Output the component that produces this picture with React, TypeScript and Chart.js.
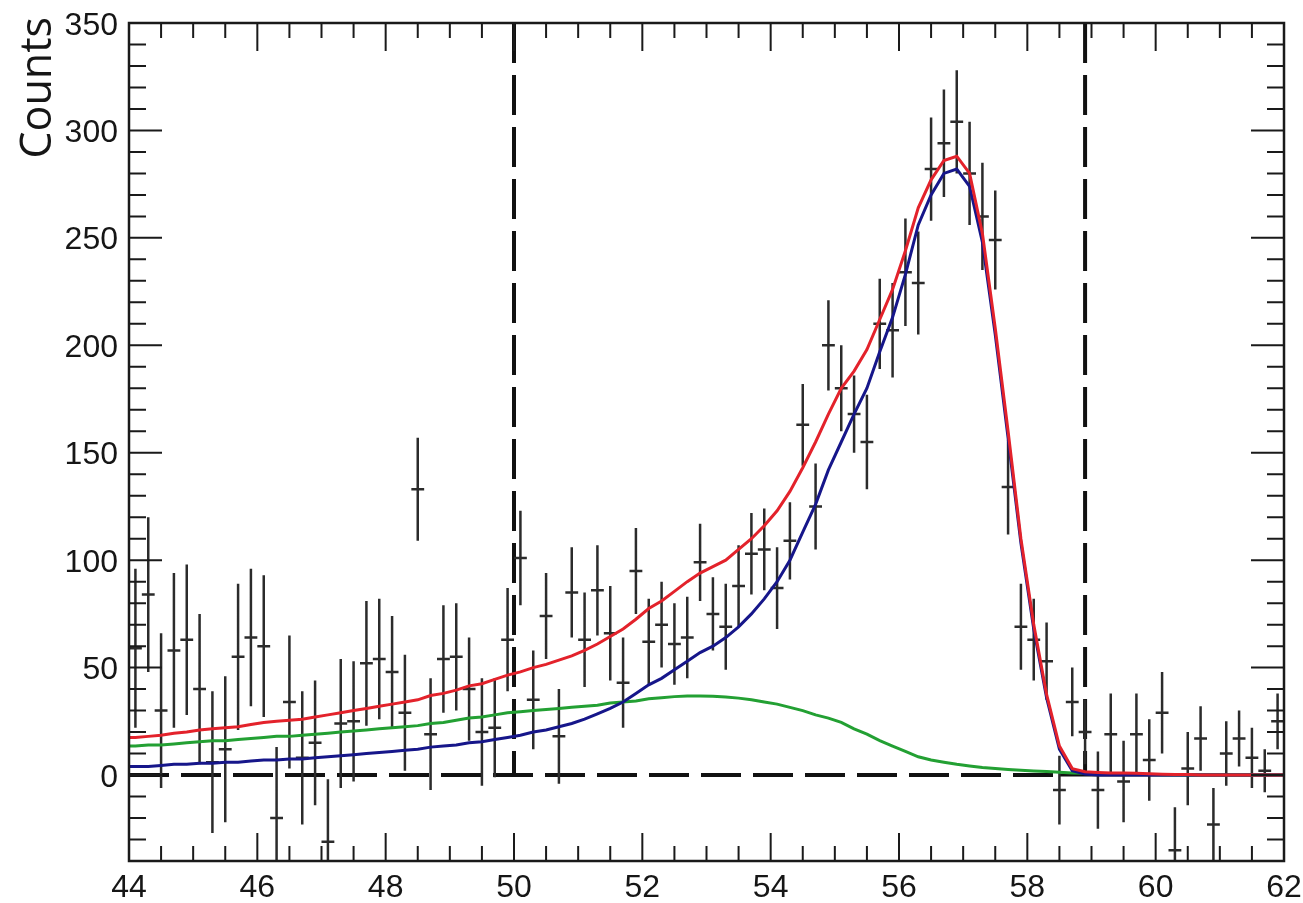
import React, { useEffect, useRef } from "react";
import { Chart, registerables } from "chart.js";

Chart.register(...registerables);

// ---- axis ranges & ticks ----
const X_MIN = 44;
const X_MAX = 62;
const Y_MIN = -40;
const Y_MAX = 350;
const BIN_WIDTH = 0.2;
const X_TICKS = [44, 46, 48, 50, 52, 54, 56, 58, 60, 62];
const Y_TICKS = [0, 50, 100, 150, 200, 250, 300, 350];
const Y_TITLE = "Counts";

// ---- selection window (vertical dashed lines) ----
const CUT_LOW = 50;
const CUT_HIGH = 58.9;
const ZERO_DASH_END = 58.5;

// ---- data histogram (bin centres 44.1 ... 61.9) ----
const COUNTS = [
  59, 84, 30, 58, 63, 40, 6, 12, 55, 64,
  60, -20, 34, 8, 15, -31, 24, 25, 52, 54,
  48, 29, 133, 19, 54, 55, 40, 20, 22, 63,
  101, 35, 74, 18, 85, 63, 86, 66, 43, 95,
  62, 70, 61, 64, 99, 75, 69, 88, 103, 105,
  87, 109, 163, 125, 200, 180, 168, 155, 210, 207,
  234, 229, 282, 294, 304, 280, 260, 249, 134, 69,
  63, 53, -7, 34, 20, -7, 19, -3, 19, 7,
  29, -35, 3, 17, -23, 10, 17, 8, 2, 25,
];
const ERRORS = [
  37, 36, 36, 36, 35, 35, 33, 34, 34, 32,
  33, 33, 31, 31, 29, 29, 30, 28, 29, 28,
  26, 27, 24, 26, 25, 25, 24, 25, 23, 24,
  22, 23, 20, 22, 21, 22, 21, 22, 21, 20,
  20, 20, 19, 19, 18, 17, 20, 19, 19, 19,
  19, 18, 19, 20, 21, 20, 18, 22, 21, 22,
  25, 24, 24, 25, 24, 24, 25, 23, 22, 20,
  19, 18, 16, 16, 15, 18, 19, 19, 19, 19,
  19, 20, 17, 15, 17, 15, 13, 14, 10, 13,
];

// ---- fit components (per bin) ----
const TOTAL = [
  17.5, 18, 18.5, 19.5, 20, 21, 21.5, 22, 22.5, 23.5,
  24.5, 25, 25.5, 26, 27, 28, 29, 30, 31, 32,
  33, 34, 35, 37, 38, 39.5, 41.5, 42.5, 44.5, 46.5,
  48, 50, 51.5, 53.5, 55.5, 58, 61, 64.5, 68, 72.5,
  77.5, 81, 85.5, 90, 94, 97, 100, 105, 110, 116,
  123, 132, 143, 155, 168, 180, 188, 198, 212, 226,
  244, 264, 277, 286, 288, 280, 252, 208, 160, 110,
  70, 37.5, 13.5, 3, 1.5, 1.2, 1, 1, 0.8, 0.6,
  0.4, 0.3, 0.2, 0, 0, 0, 0, 0, 0, 0,
];
const SIGNAL = [
  4, 4, 4.5, 5, 5, 5.5, 5.5, 6, 6, 6.5,
  7, 7, 7.5, 7.5, 8, 8.5, 9, 9.5, 10, 10.5,
  11, 11.5, 12, 13, 13.5, 14, 15, 15.5, 16.5, 17.5,
  18.5, 20, 21, 22.5, 24, 26, 28.5, 31, 34, 38,
  42, 45, 49, 53, 57, 60, 64, 69, 75, 82,
  90, 100, 113, 126, 142, 155, 168, 180, 197, 213,
  233, 256, 270, 280, 282, 274, 248, 205, 157, 108,
  68, 36, 12, 2, 0.5, 0, 0, 0, 0, 0,
  0, 0, 0, 0, 0, 0, 0, 0, 0, 0,
];
const BACKGROUND = [
  13.5, 14, 14, 14.5, 15, 15.5, 16, 16, 16.5, 17,
  17.5, 18, 18, 18.5, 19, 19.5, 20, 20.5, 21, 21.5,
  22, 22.5, 23, 24, 24.5, 25.5, 26.5, 27, 28, 29,
  29.5, 30, 30.5, 31, 31.5, 32, 32.5, 33.5, 34, 34.5,
  35.5, 36, 36.5, 36.8, 36.8, 36.7, 36.3, 35.8, 35, 34,
  33, 31.5, 30, 28, 26.5, 24.5, 21.5, 19, 16, 13.5,
  11, 8.5, 7, 6, 5, 4.2, 3.5, 3, 2.6, 2.2,
  1.9, 1.6, 1.3, 1, 0.8, 0.6, 0.5, 0.4, 0.3, 0.2,
  0.1, 0.1, 0, 0, 0, 0, 0, 0, 0, 0,
];

const COLORS = {
  total: "#e3222b",
  signal: "#16168a",
  background: "#23a033",
  data: "#2b2b2b",
  dash: "#111111",
  text: "#161616",
};

const LABEL_FONT = '32px "Liberation Sans", Arial, sans-serif';
const TITLE_FONT = '43px "Open Sans", sans-serif';

const binCenter = (i: number) => X_MIN + BIN_WIDTH * (i + 0.5);

function curvePoints(values: number[]) {
  const pts = values.map((v, i) => ({ x: binCenter(i), y: v }));
  pts.unshift({ x: X_MIN, y: values[0] });
  pts.push({ x: X_MAX, y: values[values.length - 1] });
  return pts;
}

function errorBarPoints() {
  const pts: { x: number; y: number | null }[] = [];
  COUNTS.forEach((v, i) => {
    const c = binCenter(i);
    const e = ERRORS[i];
    pts.push({ x: c, y: v - e }, { x: c, y: v + e }, { x: c, y: null });
    pts.push({ x: c - BIN_WIDTH / 2, y: v }, { x: c + BIN_WIDTH / 2, y: v }, { x: c, y: null });
  });
  return pts;
}

const frameAndTicks = {
  id: "frameAndTicks",
  afterDatasetsDraw(chart: any) {
    const { ctx, chartArea: a, scales } = chart;
    const xs = scales.x;
    const ys = scales.y;
    ctx.save();
    ctx.strokeStyle = "#1a1a1a";
    ctx.lineWidth = 2;
    ctx.beginPath();
    for (let k = 0; k <= (X_MAX - X_MIN) * 2; k++) {
      const v = X_MIN + k * 0.5;
      const px = xs.getPixelForValue(v);
      const len = k % 4 === 0 ? 28 : 15;
      ctx.moveTo(px, a.bottom);
      ctx.lineTo(px, a.bottom - len);
      ctx.moveTo(px, a.top);
      ctx.lineTo(px, a.top + len);
    }
    for (let k = 0; k <= (Y_MAX - Y_MIN) / 10; k++) {
      const v = Y_MIN + k * 10;
      const py = ys.getPixelForValue(v);
      const len = v % 50 === 0 ? 33 : 17;
      ctx.moveTo(a.left, py);
      ctx.lineTo(a.left + len, py);
      ctx.moveTo(a.right, py);
      ctx.lineTo(a.right - len, py);
    }
    ctx.stroke();
    ctx.lineWidth = 2.5;
    ctx.strokeRect(a.left, a.top, a.right - a.left, a.bottom - a.top);

    // tick labels
    ctx.fillStyle = COLORS.text;
    ctx.font = LABEL_FONT;
    ctx.textAlign = "center";
    ctx.textBaseline = "alphabetic";
    X_TICKS.forEach((v) => {
      ctx.fillText(String(v), xs.getPixelForValue(v), a.bottom + 36);
    });
    ctx.textAlign = "right";
    Y_TICKS.forEach((v) => {
      ctx.fillText(String(v), a.left - 11, ys.getPixelForValue(v) + 11.5);
    });

    // y-axis title, right-aligned to the top like ROOT
    ctx.translate(51, 17);
    ctx.rotate(-Math.PI / 2);
    ctx.font = TITLE_FONT;
    ctx.textAlign = "right";
    ctx.fillText(Y_TITLE, 0, 0);
    ctx.restore();
  },
};

export default function App() {
  const ref = useRef<HTMLCanvasElement>(null);

  useEffect(() => {
    if (!ref.current) return;
    const line = (data: any[], color: string, width: number, extra: any = {}) => ({
      type: "line",
      data,
      borderColor: color,
      borderWidth: width,
      pointRadius: 0,
      pointHoverRadius: 0,
      fill: false,
      tension: 0,
      spanGaps: false,
      ...extra,
    });

    const chart = new Chart(ref.current, {
      type: "line",
      data: {
        datasets: [
          line(curvePoints(TOTAL), COLORS.total, 3, { label: "total" }),
          line(curvePoints(SIGNAL), COLORS.signal, 3, { label: "signal" }),
          line(curvePoints(BACKGROUND), COLORS.background, 3, { label: "background" }),
          line(errorBarPoints(), COLORS.data, 2.5, { label: "data" }),
          line([{ x: CUT_LOW, y: Y_MAX }, { x: CUT_LOW, y: 0 }], COLORS.dash, 4, { borderDash: [40, 12] }),
          line([{ x: CUT_HIGH, y: Y_MAX }, { x: CUT_HIGH, y: 0 }], COLORS.dash, 4, { borderDash: [40, 12] }),
          line([{ x: X_MIN, y: 0 }, { x: ZERO_DASH_END, y: 0 }], COLORS.dash, 4, { borderDash: [40, 12] }),
          line([{ x: ZERO_DASH_END, y: 0 }, { x: X_MAX, y: 0 }], COLORS.dash, 3),
        ] as any,
      },
      options: {
        animation: false,
        responsive: false,
        events: [],
        layout: { padding: { top: 23, right: 19, bottom: 0, left: 0 } },
        plugins: {
          legend: { display: false },
          tooltip: { enabled: false },
          title: { display: false },
        },
        scales: {
          x: {
            type: "linear",
            min: X_MIN,
            max: X_MAX,
            grid: { display: false },
            border: { display: false },
            ticks: { display: false },
            afterFit: (s: any) => {
              s.height = 42;
            },
          },
          y: {
            type: "linear",
            min: Y_MIN,
            max: Y_MAX,
            grid: { display: false },
            border: { display: false },
            ticks: { display: false },
            afterFit: (s: any) => {
              s.width = 129;
            },
          },
        },
      } as any,
      plugins: [frameAndTicks],
    });
    return () => chart.destroy();
  }, []);

  return (
    <div style={{ position: "fixed", left: 0, top: 0, width: 1303, height: 903, background: "#fff" }}>
      <canvas ref={ref} width={1303} height={903} style={{ display: "block" }} />
    </div>
  );
}
